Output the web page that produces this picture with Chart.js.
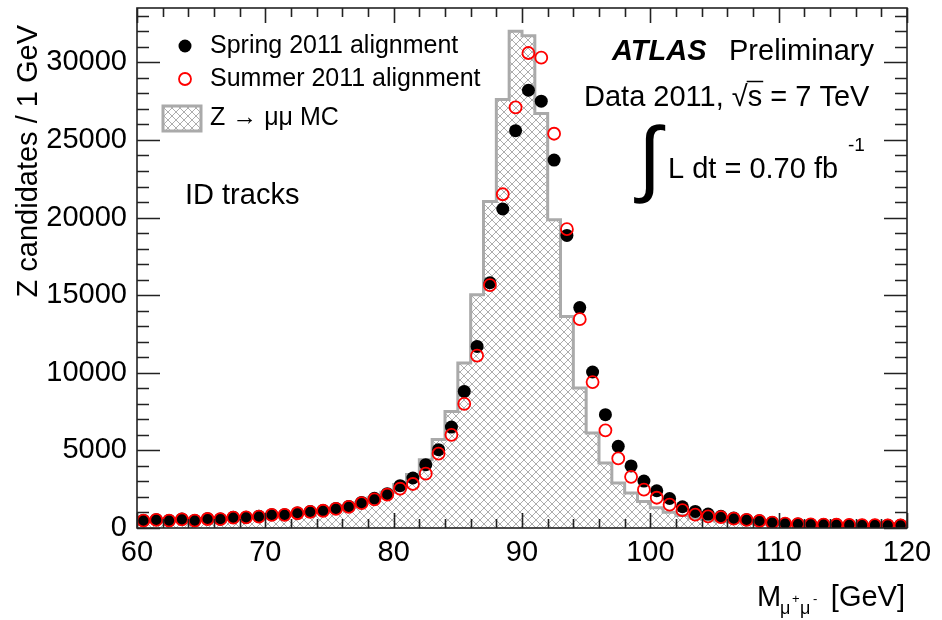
<!DOCTYPE html>
<html>
<head>
<meta charset="utf-8">
<script src="https://cdn.jsdelivr.net/npm/chart.js@4.4.1/dist/chart.umd.min.js"></script>
<style>
  body { margin: 0; background: #fff; }
  #wrap { width: 942px; height: 620px; }
</style>
</head>
<body>
<div id="wrap"><canvas id="massChart" width="942" height="620"></canvas></div>
<script>
// bin centres [GeV], 1 GeV bins
const massBins = [
  60.5, 61.5, 62.5, 63.5, 64.5, 65.5, 66.5, 67.5, 68.5, 69.5,
  70.5, 71.5, 72.5, 73.5, 74.5, 75.5, 76.5, 77.5, 78.5, 79.5,
  80.5, 81.5, 82.5, 83.5, 84.5, 85.5, 86.5, 87.5, 88.5, 89.5,
  90.5, 91.5, 92.5, 93.5, 94.5, 95.5, 96.5, 97.5, 98.5, 99.5,
  100.5, 101.5, 102.5, 103.5, 104.5, 105.5, 106.5, 107.5, 108.5, 109.5,
  110.5, 111.5, 112.5, 113.5, 114.5, 115.5, 116.5, 117.5, 118.5, 119.5
];

const spring2011 = [
  490, 535, 490, 580, 490, 600, 580, 690, 690, 750,
  860, 860, 970, 1060, 1130, 1260, 1390, 1650, 1910, 2210,
  2725, 3220, 4080, 5045, 6500, 8800, 11700, 15800, 20550, 25600,
  28200, 27500, 23700, 18850, 14200, 10050, 7300, 5260, 4000, 3020,
  2400, 1900, 1370, 1070, 900, 750, 640, 535, 470, 360,
  280, 260, 230, 220, 220, 200, 180, 180, 180, 180
];

const summer2011 = [
  470, 520, 480, 560, 480, 580, 570, 670, 680, 730,
  840, 850, 950, 1040, 1110, 1230, 1360, 1600, 1850, 2150,
  2530, 2835, 3500, 4790, 6000, 8000, 11100, 15650, 21500, 27100,
  30600, 30300, 25400, 19250, 13450, 9400, 6290, 4480, 3300, 2470,
  1950, 1500, 1150, 860, 750, 700, 600, 520, 450, 350,
  280, 250, 230, 220, 210, 200, 180, 180, 170, 170
];

const mcZmumu = [
  450, 470, 490, 510, 530, 550, 580, 610, 640, 680,
  730, 790, 860, 940, 1030, 1140, 1270, 1440, 1650, 1950,
  2300, 2800, 3450, 4400, 5700, 7500, 10630, 15030, 21040, 27600,
  32000, 31720, 26700, 19860, 13630, 9020, 6120, 4190, 2900, 2255,
  1700, 1300, 1020, 800, 650, 540, 450, 380, 320, 280,
  240, 210, 190, 170, 160, 150, 140, 130, 120, 110
];

const xTickLabels = ["60", "70", "80", "90", "100", "110", "120"];
const yTickLabels = ["0", "5000", "10000", "15000", "20000", "25000", "30000"];

const FONT = "'Liberation Sans', Arial, Helvetica, sans-serif";

const canvas = document.getElementById("massChart");
const ctx = canvas.getContext("2d");

// cross hatch like ROOT fill style 3013
function makeHatch(c2d) {
  const tile = document.createElement("canvas");
  tile.width = 8;
  tile.height = 8;
  const g = tile.getContext("2d");
  g.fillStyle = "#fff";
  g.fillRect(0, 0, 8, 8);
  g.strokeStyle = "#adadad";
  g.lineWidth = 1;
  g.beginPath();
  g.moveTo(-1, -1); g.lineTo(9, 9);
  g.moveTo(9, -1); g.lineTo(-1, 9);
  g.stroke();
  return c2d.createPattern(tile, "repeat");
}
const hatch = makeHatch(ctx);

// histogram as step line on bin edges
const mcSteps = massBins.map((c, i) => ({ x: c - 0.5, y: mcZmumu[i] }));
mcSteps.push({ x: massBins[massBins.length - 1] + 0.5, y: mcZmumu[mcZmumu.length - 1] });

const springPts = massBins.map((c, i) => ({ x: c, y: spring2011[i] }));
const summerPts = massBins.map((c, i) => ({ x: c, y: summer2011[i] }));

// axes frame, inner ticks, titles, legend and labels
const atlasDecor = {
  id: "atlasDecor",
  afterDraw(chart) {
    const c = chart.ctx;
    const a = chart.chartArea;
    const xs = chart.scales.x;
    const ys = chart.scales.y;
    c.save();

    c.strokeStyle = "#222";
    c.lineWidth = 1.6;
    c.strokeRect(a.left, a.top, a.right - a.left, a.bottom - a.top);

    c.beginPath();
    for (let v = 60; v <= 120; v += 2) {
      const px = Math.round(xs.getPixelForValue(v)) + 0.5;
      const len = v % 10 === 0 ? 15 : 9;
      c.moveTo(px, a.bottom); c.lineTo(px, a.bottom - len);
      c.moveTo(px, a.top); c.lineTo(px, a.top + len);
    }
    for (let v = 0; v <= 33000; v += 1000) {
      const py = Math.round(ys.getPixelForValue(v)) + 0.5;
      const len = v % 5000 === 0 ? 23 : 12;
      c.moveTo(a.left, py); c.lineTo(a.left + len, py);
      c.moveTo(a.right, py); c.lineTo(a.right - len, py);
    }
    c.stroke();

    c.fillStyle = "#000";

    // y tick labels
    c.font = "29px " + FONT;
    c.textAlign = "right";
    c.textBaseline = "middle";
    yTickLabels.forEach((lab) => {
      c.fillText(lab, a.left - 10, ys.getPixelForValue(Number(lab)));
    });

    c.textBaseline = "alphabetic";

    // y title
    c.save();
    c.translate(37, 25);
    c.rotate(-Math.PI / 2);
    c.textAlign = "right";
    c.font = "29px " + FONT;
    c.fillText("Z candidates / 1 GeV", 0, 0);
    c.restore();

    // x title
    c.textAlign = "left";
    c.font = "29px " + FONT;
    c.fillText("M", 757, 606);
    c.font = "18px " + FONT;
    c.fillText("\u03bc", 780, 614);
    c.fillText("\u03bc", 800, 614);
    c.font = "13px " + FONT;
    c.fillText("+", 792, 603);
    c.fillText("-", 813, 603);
    c.font = "29px " + FONT;
    c.textAlign = "right";
    c.fillText("[GeV]", 905, 606);

    // legend
    c.textAlign = "left";
    c.textBaseline = "middle";
    c.font = "25px " + FONT;
    c.beginPath();
    c.arc(185, 46, 6.5, 0, Math.PI * 2);
    c.fillStyle = "#000";
    c.fill();
    c.fillText("Spring 2011 alignment", 210, 46);

    c.beginPath();
    c.arc(185, 79, 6, 0, Math.PI * 2);
    c.strokeStyle = "#f00";
    c.lineWidth = 1.8;
    c.stroke();
    c.fillText("Summer 2011 alignment", 210, 79);

    c.fillStyle = hatch;
    c.fillRect(163, 106, 38, 25);
    c.strokeStyle = "#aaa";
    c.lineWidth = 3;
    c.strokeRect(163, 106, 38, 25);
    c.fillStyle = "#000";
    c.fillText("Z \u2192 \u03bc\u03bc MC", 210, 118);

    c.font = "29px " + FONT;
    c.fillText("ID tracks", 185, 196);

    // ATLAS label
    c.textBaseline = "alphabetic";
    c.font = "italic bold 29px " + FONT;
    c.fillText("ATLAS", 612, 60);
    c.font = "29px " + FONT;
    c.fillText("Preliminary", 729, 60);

    let x = 584;
    const y2 = 106;
    c.fillText("Data 2011, ", x, y2);
    x += c.measureText("Data 2011, ").width;
    c.fillText("\u221a", x, y2);
    x += c.measureText("\u221a").width;
    const sw = c.measureText("s").width;
    c.fillText("s", x, y2);
    c.beginPath();
    c.moveTo(x - 1, y2 - 24.5);
    c.lineTo(x + sw + 1, y2 - 24.5);
    c.strokeStyle = "#000";
    c.lineWidth = 1.5;
    c.stroke();
    x += sw;
    c.fillText(" = 7 TeV", x, y2);

    c.font = "84px " + FONT;
    c.fillText("\u222b", 638, 186);
    c.font = "29px " + FONT;
    c.fillText("L dt = 0.70 fb", 668, 178);
    c.font = "19px " + FONT;
    c.fillText("-1", 848, 151);

    c.restore();
  }
};

new Chart(ctx, {
  type: "scatter",
  data: {
    datasets: [
      {
        label: "Summer 2011 alignment",
        data: summerPts,
        pointRadius: 6,
        pointBorderWidth: 1.8,
        pointBackgroundColor: "rgba(0,0,0,0)",
        pointBorderColor: "#f00",
        order: 1,
      },
      {
        label: "Spring 2011 alignment",
        data: springPts,
        pointRadius: 6.5,
        pointBorderWidth: 0,
        pointBackgroundColor: "#000",
        pointBorderColor: "#000",
        order: 2,
      },
      {
        type: "line",
        label: "Z \u2192 \u03bc\u03bc MC",
        data: mcSteps,
        stepped: "after",
        showLine: true,
        borderColor: "#aaa",
        borderWidth: 3,
        backgroundColor: hatch,
        fill: "origin",
        pointRadius: 0,
        order: 3,
      },
    ],
  },
  options: {
    responsive: false,
    animation: false,
    layout: { padding: { left: 0, top: 8, right: 35, bottom: 0 } },
    plugins: {
      legend: { display: false },
      tooltip: { enabled: false },
    },
    scales: {
      x: {
        type: "linear",
        min: 60,
        max: 120,
        grid: { display: false, drawTicks: false },
        border: { display: false },
        ticks: {
          stepSize: 10,
          padding: 8,
          color: "#000",
          font: { family: FONT, size: 29 },
          callback: (v) => xTickLabels.includes(String(v)) ? String(v) : "",
        },
        afterFit: (scale) => { scale.height = 92; },
      },
      y: {
        type: "linear",
        min: 0,
        max: 33500,
        grid: { display: false, drawTicks: false },
        border: { display: false },
        ticks: { display: false },
        afterFit: (scale) => {
          scale.width = 137;
          scale.paddingTop = 0;
          scale.paddingBottom = 0;
        },
      },
    },
  },
  plugins: [atlasDecor],
});
</script>
</body>
</html>
